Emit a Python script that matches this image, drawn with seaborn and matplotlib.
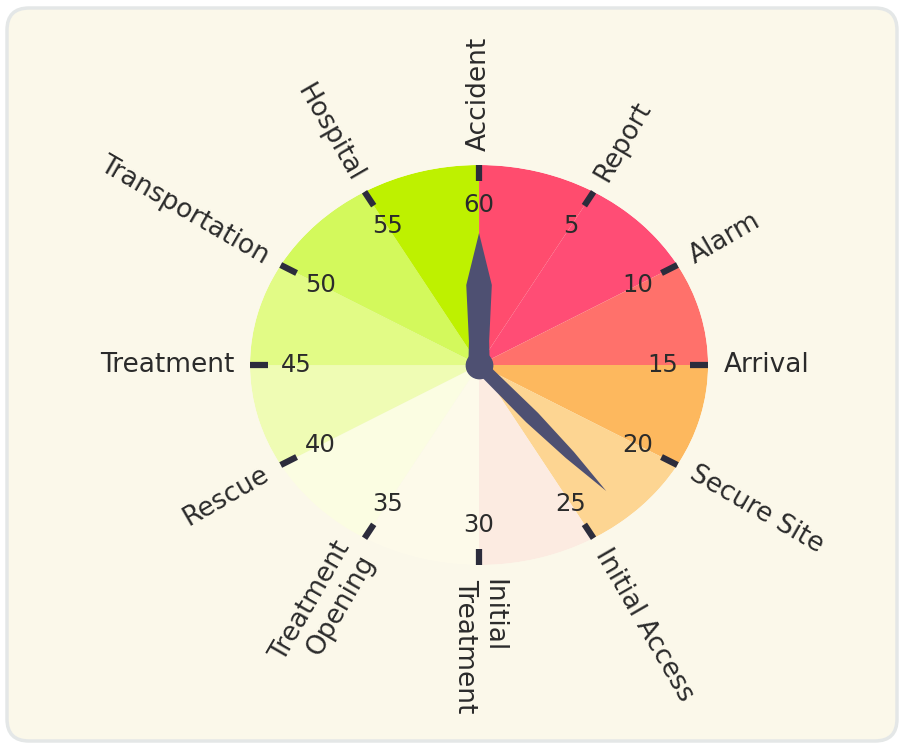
import numpy as np
import matplotlib
matplotlib.use("Agg")
import matplotlib.pyplot as plt
import seaborn as sns
from matplotlib.patches import FancyBboxPatch

# data: one sector per 5 minutes, clockwise from the top
sector_starts = [0, 5, 10, 15, 20, 25, 30, 35, 40, 45, 50, 55]
sector_colors = ["#FF4C6E", "#FF4D75", "#FF716B", "#FDB85E", "#FDD592", "#FCEBE1",
                 "#FDFAEA", "#FBFDE2", "#EFFCB4", "#E2FB86", "#D3F95C", "#BEF100"]
stage_labels = ["Accident", "Report", "Alarm", "Arrival", "Secure Site", "Initial Access",
                "Initial\nTreatment", "Treatment\nOpening", "Rescue", "Treatment",
                "Transportation", "Hospital"]
minute_labels = ["60", "5", "10", "15", "20", "25", "30", "35", "40", "45", "50", "55"]
hand_minutes = [0, 23.1]

sns.set_theme(style="white")
plt.rcParams["font.family"] = ["DejaVu Sans"]

text_color = "#2B2B2B"
hand_color = "#4E5072"


def to_rad(m):
    return np.deg2rad(np.asarray(m, dtype=float) * 6.0)


fig = plt.figure(figsize=(9.03, 7.45), dpi=100, facecolor="white")

# rounded cream panel
panel = FancyBboxPatch((0.07, 0.04), 8.9, 7.33,
                       boxstyle="round,pad=0,rounding_size=0.22",
                       transform=fig.dpi_scale_trans, facecolor="#FBF8EA",
                       edgecolor="#E4E7E7", linewidth=2.5, zorder=-10)
fig.patches.append(panel)

ax = fig.add_axes([0.2769, 0.2416, 0.5072, 0.5369], projection="polar")
ax.set_zorder(1)
ax.set_aspect("auto")
ax.set_theta_zero_location("N")
ax.set_theta_direction(-1)
ax.patch.set_alpha(0)

# sectors
width = to_rad(5)
ax.bar(to_rad(np.array(sector_starts) + 2.5), np.ones(len(sector_starts)), width=width,
       bottom=0, color=sector_colors, edgecolor="none", linewidth=0, zorder=1)

# radial tick marks, numbers and stage labels
for m, num, lab in zip(sector_starts, minute_labels, stage_labels):
    th = to_rad(m)
    ax.plot([th, th], [0.92, 1.0], color="#2C2C3C", lw=4.5, solid_capstyle="butt",
            zorder=3, clip_on=False)
    ax.text(th, 0.80, num, ha="center", va="center", fontsize=17.5, color=text_color,
            zorder=4)
    phi = m * 6
    if phi <= 180:
        rot, ha = 90 - phi, "left"
    else:
        rot, ha = 270 - phi, "right"
    ax.text(th, 1.07, lab, rotation=rot, rotation_mode="anchor", ha=ha, va="center",
            fontsize=19, color=text_color, linespacing=1.1, zorder=4)

# clock hands
profiles = [
    ([0.0, 0.12, 0.40, 0.66], [10.0, 9.5, 12.0, 0.0]),
    ([0.0, 0.35, 0.60, 0.84], [6.5, 7.5, 5.0, 0.0]),
]
for m, (rs, hws) in zip(hand_minutes, profiles):
    th0 = to_rad(m)
    rs = np.array(rs)
    hw = np.array(hws) / 215.0
    off = np.arctan2(hw, rs)
    rad = np.hypot(rs, hw)
    thetas = np.concatenate([th0 - off, (th0 + off)[::-1]])
    radii = np.concatenate([rad, rad[::-1]])
    ax.fill(thetas, radii, color=hand_color, lw=0, zorder=5)

ax.scatter([0], [0], s=360, color=hand_color, zorder=6, clip_on=False)

ax.set_ylim(0, 1)
ax.set_xticks([])
ax.set_yticks([])
ax.grid(False)
ax.spines["polar"].set_visible(False)

fig.savefig("out.png", dpi=100, facecolor=fig.get_facecolor())
